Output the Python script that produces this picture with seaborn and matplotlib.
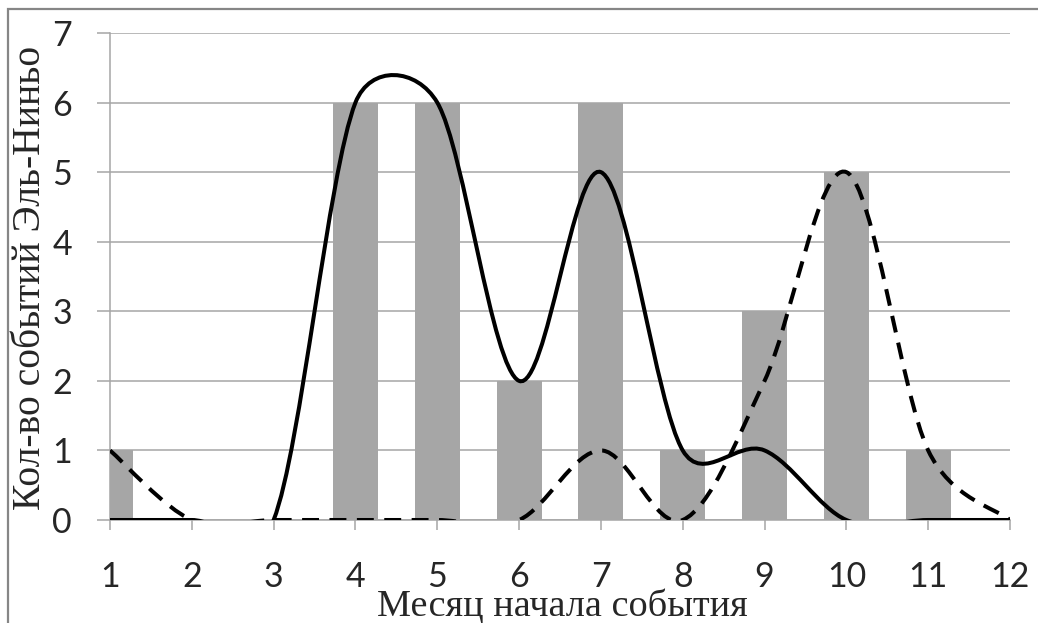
import numpy as np
import seaborn as sns
import matplotlib.pyplot as plt
from matplotlib.path import Path
from matplotlib.patches import PathPatch, Rectangle

# data
months = [1, 2, 3, 4, 5, 6, 7, 8, 9, 10, 11, 12]
events = [1, 0, 0, 6, 6, 2, 6, 1, 3, 5, 1, 0]
solid_curve = [0, 0, 0, 6, 6, 2, 5, 1, 1, 0, 0, 0]
dashed_curve = [1, 0, 0, 0, 0, 0, 1, 0, 2, 5, 1, 0]

xlabel = "Месяц начала события"
ylabel = "Кол-во событий Эль-Ниньо"

W, H = 1038, 623
grey = "#a6a6a6"

sns.set_theme(style="white")
plt.rcParams['font.family'] = ['Lato', 'DejaVu Sans']

fig = plt.figure(figsize=(W / 100, H / 100), dpi=100)
ax = fig.add_axes([110 / W, 1 - 520 / H, 900 / W, 487 / H])

sns.barplot(x=months, y=events, native_scale=True, width=0.55, color=grey,
            saturation=1, linewidth=0, ax=ax, zorder=2)

ax.set_xlim(1, 12)
ax.set_ylim(0, 7)
ax.set_xticks(months)
ax.set_xticklabels([str(m) for m in months])
ax.set_yticks(range(8))
ax.set_axisbelow(True)
ax.yaxis.grid(True, color=grey, lw=1.1)
ax.xaxis.grid(False)
for s in ["top", "right"]:
    ax.spines[s].set_visible(False)
for s in ["left", "bottom"]:
    ax.spines[s].set_color(grey)
    ax.spines[s].set_linewidth(1.1)
ax.tick_params(axis="y", direction="out", length=9.4, width=1.1, color=grey,
               pad=18, labelsize=24.5, left=True)
ax.tick_params(axis="x", direction="out", length=7.2, width=1.1, color=grey,
               pad=22, labelsize=24.5, bottom=True)
ax.set_xlabel("")
ax.set_ylabel("")


def smooth_path(xs, ys):
    # Excel-style smoothed line: cubic Bezier segments, computed in pixel space
    bb = ax.get_window_extent()
    sx = bb.width / (ax.get_xlim()[1] - ax.get_xlim()[0])
    sy = bb.height / (ax.get_ylim()[1] - ax.get_ylim()[0])
    P = np.column_stack([np.asarray(xs, float) * sx, np.asarray(ys, float) * sy])
    n = len(P)
    verts = [P[0]]
    codes = [Path.MOVETO]
    for i in range(n - 1):
        p0 = P[i - 1] if i > 0 else P[i]
        p1, p2 = P[i], P[i + 1]
        p3 = P[i + 2] if i + 2 < n else P[i + 1]
        d12 = np.hypot(*(p2 - p1))
        d02 = np.hypot(*(p2 - p0))
        d13 = np.hypot(*(p3 - p1))
        f = 1 / 6
        g = 1 / 6
        if d02 / 6 >= d12 / 2 and d02 > 0:
            f = d12 / d02 / 2
        if d13 / 6 >= d12 / 2 and d13 > 0:
            g = d12 / d13 / 2
        c1 = p1 + f * (p2 - p0)
        c2 = p2 - g * (p3 - p1)
        verts += [c1, c2, p2]
        codes += [Path.CURVE4] * 3
    verts = np.array(verts) / [sx, sy]
    return Path(verts, codes)


ax.add_patch(PathPatch(smooth_path(months, solid_curve), fill=False,
                       color="black", lw=2.9, zorder=3))
dashed = PathPatch(smooth_path(months, dashed_curve), fill=False,
                   color="black", lw=2.9, zorder=3)
dashed.set_linestyle((0, (4.2, 2.6)))
ax.add_patch(dashed)

fig.text(562 / W, 1 - 617 / H, xlabel, family=['Liberation Serif'], size=27.5,
         ha="center", va="baseline")
fig.text(31 / W, 1 - 278 / H, ylabel, family=['Liberation Serif'], size=28.5,
         ha="center", va="center", rotation=90)

# chart area border (only left and top edges inside the image)
fig.patches.append(Rectangle((8 / W, -0.5), 2, 1.5 - 9 / H, fill=False,
                             edgecolor="#868686", lw=1.6,
                             transform=fig.transFigure, figure=fig))

fig.savefig("out.png", dpi=100)
